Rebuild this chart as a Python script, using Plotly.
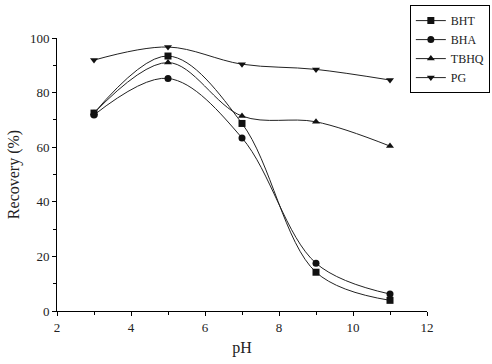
import plotly.graph_objects as go

ph = [3, 5, 7, 9, 11]
bht = [72.5, 93.4, 68.7, 14.2, 3.9]
bha = [71.8, 85.2, 63.4, 17.5, 6.2]
tbhq = [72.5, 91.0, 71.4, 69.3, 60.4]
pg = [91.9, 96.7, 90.4, 88.5, 84.6]

series = [("BHT", bht, "square"), ("BHA", bha, "circle"),
          ("TBHQ", tbhq, "triangle-up"), ("PG", pg, "triangle-down")]

fig = go.Figure()
for name, vals, sym in series:
    fig.add_trace(go.Scatter(
        x=ph, y=vals, name=name, mode="lines+markers",
        line=dict(color="#222", width=1, shape="spline", smoothing=1),
        marker=dict(symbol=sym, size=7, color="#111"),
    ))

axis_common = dict(
    showline=True, linecolor="black", linewidth=1, ticks="outside",
    ticklen=4, tickcolor="black", showgrid=False, zeroline=False,
    mirror=False, automargin=False,
    tickfont=dict(family="Liberation Serif", size=13, color="#222"),
)
fig.update_xaxes(range=[2, 12], dtick=2, title=dict(text="pH", font=dict(family="Liberation Serif", size=16, color="#222"), standoff=8),
                 minor=dict(dtick=1, ticks="outside", ticklen=3, tickcolor="black"), **axis_common)
fig.update_yaxes(range=[0, 100], dtick=20, title=dict(text="Recovery (%)", font=dict(family="Liberation Serif", size=16, color="#222"), standoff=6),
                 minor=dict(dtick=10, ticks="outside", ticklen=3, tickcolor="black"), **axis_common)

fig.update_layout(
    width=492, height=364,
    margin=dict(l=57, r=65, t=38, b=53, autoexpand=False),
    plot_bgcolor="white", paper_bgcolor="white",
    font=dict(family="Liberation Serif", size=13, color="#222"),
    legend=dict(xref="container", yref="container", x=0.833, y=0.986,
                xanchor="left", yanchor="top",
                bordercolor="black", borderwidth=1, bgcolor="white",
                font=dict(family="Liberation Serif", size=12, color="#222"),
                itemwidth=30, tracegroupgap=0),
)
fig.write_html("out.html", config={"displayModeBar": False},
               post_script="document.body.style.margin='0';")
